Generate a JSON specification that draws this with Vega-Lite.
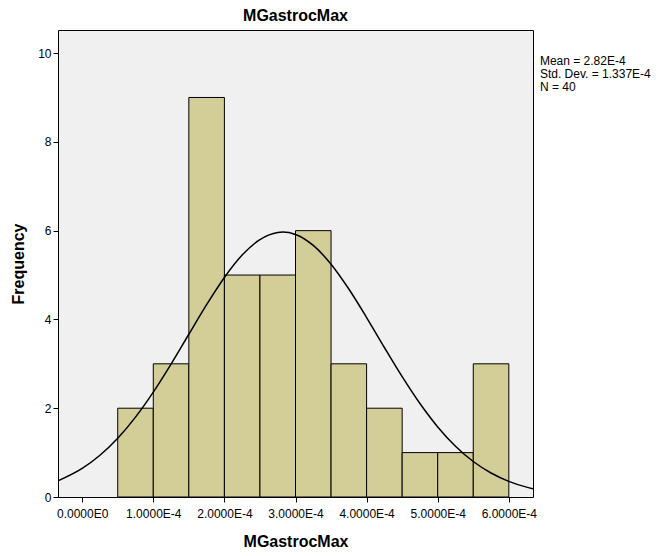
{
  "$schema": "https://vega.github.io/schema/vega-lite/v6.json",
  "autosize": {"type": "none"},
  "padding": {"left": 58, "top": 30, "right": 126, "bottom": 59},
  "width": 475,
  "height": 467,
  "background": "white",
  "config": {
    "font": "Liberation Sans",
    "view": {"fill": "#F0F0F0", "stroke": "black", "strokeWidth": 1},
    "axis": {"grid": false, "domain": false, "tickColor": "black", "tickSize": 5, "labelColor": "black", "labelFontSize": 12, "labelFont": "Liberation Sans", "titleFont": "Liberation Sans", "titleFontSize": 16, "titleFontWeight": "bold", "titleColor": "black"}
  },
  "title": {"text": "MGastrocMax", "fontSize": 16, "fontWeight": "bold", "font": "Liberation Sans", "color": "black", "offset": 6},
  "datasets": {
    "bars": [
      {"start": 0.00005, "end": 0.00010, "count": 2},
      {"start": 0.00010, "end": 0.00015, "count": 3},
      {"start": 0.00015, "end": 0.00020, "count": 9},
      {"start": 0.00020, "end": 0.00025, "count": 5},
      {"start": 0.00025, "end": 0.00030, "count": 5},
      {"start": 0.00030, "end": 0.00035, "count": 6},
      {"start": 0.00035, "end": 0.00040, "count": 3},
      {"start": 0.00040, "end": 0.00045, "count": 2},
      {"start": 0.00045, "end": 0.00050, "count": 1},
      {"start": 0.00050, "end": 0.00055, "count": 1},
      {"start": 0.00055, "end": 0.00060, "count": 3}
    ],
    "curve": [
      {"v": -0.000034, "f": 0.365},
      {"v": 0.0, "f": 0.645},
      {"v": 0.000025, "f": 0.941},
      {"v": 0.00005, "f": 1.324},
      {"v": 0.000075, "f": 1.800},
      {"v": 0.0001, "f": 2.363},
      {"v": 0.000125, "f": 2.995},
      {"v": 0.00015, "f": 3.666},
      {"v": 0.000175, "f": 4.333},
      {"v": 0.0002, "f": 4.945},
      {"v": 0.000225, "f": 5.450},
      {"v": 0.00025, "f": 5.799},
      {"v": 0.000275, "f": 5.960},
      {"v": 0.000282, "f": 5.968},
      {"v": 0.0003, "f": 5.914},
      {"v": 0.000325, "f": 5.667},
      {"v": 0.00035, "f": 5.244},
      {"v": 0.000375, "f": 4.685},
      {"v": 0.0004, "f": 4.043},
      {"v": 0.000425, "f": 3.368},
      {"v": 0.00045, "f": 2.710},
      {"v": 0.000475, "f": 2.105},
      {"v": 0.0005, "f": 1.579},
      {"v": 0.000525, "f": 1.144},
      {"v": 0.00055, "f": 0.800},
      {"v": 0.000575, "f": 0.541},
      {"v": 0.0006, "f": 0.353},
      {"v": 0.000625, "f": 0.222},
      {"v": 0.000634, "f": 0.187}
    ]
  },
  "layer": [
    {
      "data": {"name": "bars"},
      "mark": {"type": "bar", "fill": "#D3CE97", "stroke": "black", "strokeWidth": 1},
      "encoding": {
        "x": {"field": "start", "type": "quantitative",
              "scale": {"domain": [-0.000034, 0.000634], "nice": false, "zero": false},
              "axis": {"title": "MGastrocMax", "values": [0, 0.0001, 0.0002, 0.0003, 0.0004, 0.0005, 0.0006],
                       "labelExpr": "datum.value == 0 ? '0.0000E0' : format(datum.value * 10000, '.4f') + 'E-4'",
                       "labelPadding": 6, "titlePadding": 14}},
        "x2": {"field": "end"},
        "y": {"field": "count", "type": "quantitative",
              "scale": {"domain": [0, 10.52], "nice": false, "zero": true},
              "axis": {"title": "Frequency", "values": [0, 2, 4, 6, 8, 10], "labelPadding": 2, "titlePadding": 11}},
        "y2": {"datum": 0}
      }
    },
    {
      "data": {"name": "curve"},
      "mark": {"type": "line", "color": "black", "strokeWidth": 1.5, "interpolate": "monotone", "clip": true},
      "encoding": {
        "x": {"field": "v", "type": "quantitative"},
        "y": {"field": "f", "type": "quantitative"}
      }
    },
    {
      "data": {"values": [{}]},
      "mark": {"type": "text", "align": "left", "baseline": "top", "fontSize": 12, "lineHeight": 13, "font": "Liberation Sans", "color": "black"},
      "encoding": {
        "x": {"datum": 0.0006437},
        "y": {"datum": 9.93},
        "text": {"value": ["Mean = 2.82E-4", "Std. Dev. = 1.337E-4", "N = 40"]}
      }
    }
  ]
}
